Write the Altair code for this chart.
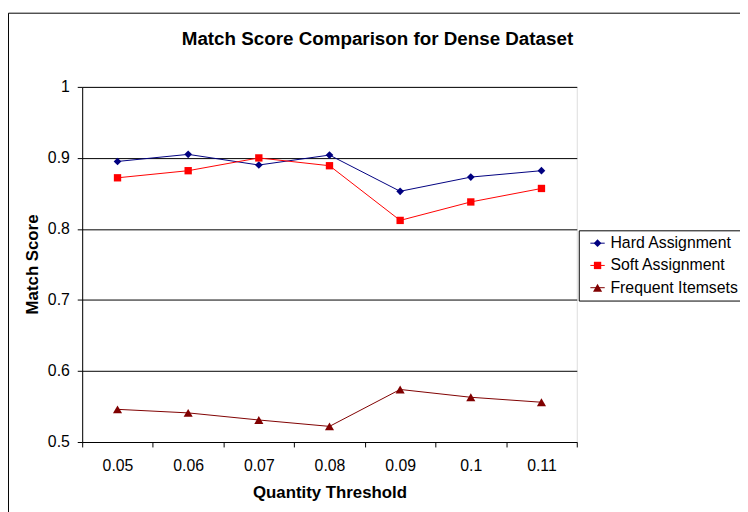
import altair as alt
import pandas as pd

title_text = "Match Score Comparison for Dense Dataset"
thresholds = ["0.05", "0.06", "0.07", "0.08", "0.09", "0.1", "0.11"]
series = ["Hard Assignment", "Soft Assignment", "Frequent Itemsets"]
hard = [0.895, 0.905, 0.890, 0.904, 0.853, 0.873, 0.882]
soft = [0.872, 0.882, 0.900, 0.889, 0.812, 0.838, 0.857]
frequent = [0.546, 0.541, 0.531, 0.522, 0.574, 0.563, 0.556]
colors = ["#000080", "#FF0000", "#800000"]
shapes = ["diamond", "square", "triangle-up"]
marker_sizes = [60, 55, 85]

rows = []
for name, vals in zip(series, [hard, soft, frequent]):
    for t, v in zip(thresholds, vals):
        rows.append({"threshold": t, "score": v, "series": name})
df = pd.DataFrame(rows)

FONT = "Liberation Sans"

x = alt.X(
    "threshold:O",
    sort=thresholds,
    bandPosition=0.5,
    scale=alt.Scale(type="band", paddingInner=0, paddingOuter=0),
    axis=alt.Axis(
        title="Quantity Threshold",
        labelAngle=0,
        tickBand="extent",
        tickSize=5,
        tickColor="black",
        domainColor="black",
        labelPadding=11,
        labelFontSize=16,
        titleFontSize=17,
        titleFontWeight="bold",
        titleBaseline="alphabetic",
        titleY=56,
        grid=False,
        labelColor="black",
        titleColor="black",
    ),
)
y = alt.Y(
    "score:Q",
    scale=alt.Scale(domain=[0.5, 1.0], nice=False, zero=False),
    axis=alt.Axis(
        title="Match Score",
        values=[0.5, 0.6, 0.7, 0.8, 0.9, 1.0],
        format="~g",
        grid=True,
        gridColor="black",
        gridWidth=1,
        tickSize=5,
        tickColor="black",
        domainColor="black",
        labelPadding=8,
        labelFontSize=16,
        titleFontSize=17,
        titleFontWeight="bold",
        titleBaseline="alphabetic",
        titleX=-45,
        titleY=179,
        labelColor="black",
        titleColor="black",
    ),
)

legend_common = dict(
    title=None,
    orient="none",
    legendX=502,
    legendY=145,
    padding=5,
    labelFontSize=16,
    labelColor="black",
    rowPadding=6.5,
    symbolOffset=6,
    labelOffset=5,
    labelLimit=300,
)

marker_legend = alt.Legend(
    strokeColor="black",
    symbolSize=30,
    symbolStrokeWidth=0,
    **legend_common,
)
line_legend = alt.Legend(
    symbolType="M-2.9,0H2.9",
    symbolSize=25,
    symbolStrokeWidth=1,
    labelOpacity=0,
    **legend_common,
)

color = alt.Color(
    "series:N",
    sort=series,
    scale=alt.Scale(domain=series, range=colors),
    legend=marker_legend,
)
shape = alt.Shape(
    "series:N",
    sort=series,
    scale=alt.Scale(domain=series, range=shapes),
    legend=marker_legend,
)
size = alt.Size(
    "series:N",
    sort=series,
    scale=alt.Scale(type="ordinal", domain=series, range=marker_sizes),
    legend=None,
)
stroke = alt.Stroke(
    "series:N",
    sort=series,
    scale=alt.Scale(range=colors),
    legend=line_legend,
)

frame = alt.Chart(alt.Data(values=[{}])).mark_rect(
    fill="white", fillOpacity=0, stroke="black", strokeWidth=1
).encode(
    x=alt.value(-74.5), x2=alt.value(2000), y=alt.value(-74.5), y2=alt.value(2000)
)

title = alt.Chart(alt.Data(values=[{}])).mark_text(
    font=FONT, fontSize=19, fontWeight="bold", color="black",
    align="center", baseline="alphabetic"
).encode(
    x=alt.value(298.5), y=alt.value(-42), text=alt.value(title_text)
)

base = alt.Chart(df)
lines = base.mark_line(strokeWidth=1).encode(x=x, y=y, stroke=stroke, detail="series:N")
points = base.mark_point(filled=True, opacity=1).encode(
    x=x, y=y, color=color, shape=shape, size=size
)

chart = alt.layer(frame, title, lines, points).properties(
    width=500,
    height=359,
    autosize="none",
    padding={"left": 75, "top": 77, "right": 165, "bottom": 68},
).configure_view(
    fill="#C0C0C0", stroke="#808080", strokeWidth=1
).configure(
    font=FONT, background="white"
)

chart.save("out.html", embed_options={"renderer": "svg", "actions": False})
